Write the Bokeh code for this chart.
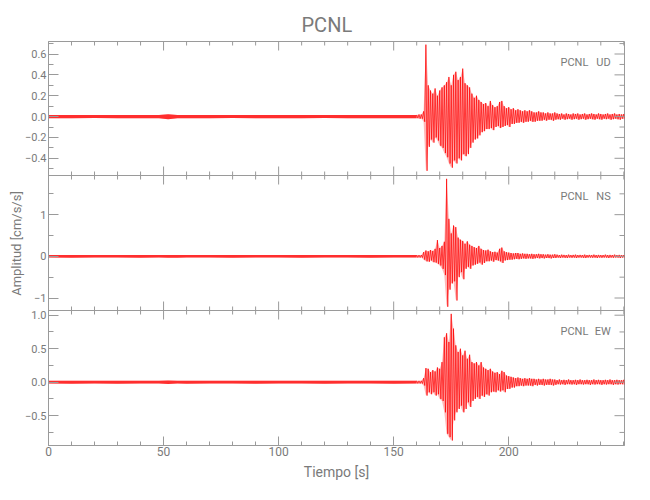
from bokeh.plotting import figure
from bokeh.models import Range1d, LinearAxis, FixedTicker, Label, Span
from bokeh.embed import file_html
from bokeh.resources import INLINE

# ---------------- data ----------------
station = "PCNL"
components = ["UD", "NS", "EW"]

# pre-event noise envelope (coarse sampling)
t_pre = [0, 10, 20, 30, 40, 48, 52, 56, 60, 70, 80, 90, 100, 110, 120, 130, 140, 150, 160]
ud_pre_hi = [0.015, 0.014, 0.016, 0.015, 0.015, 0.016, 0.022, 0.016, 0.015, 0.014, 0.015, 0.016, 0.015, 0.014, 0.015, 0.016, 0.015, 0.015, 0.016]
ud_pre_lo = [-0.015, -0.016, -0.014, -0.015, -0.016, -0.015, -0.025, -0.016, -0.015, -0.016, -0.014, -0.015, -0.016, -0.015, -0.014, -0.015, -0.016, -0.015, -0.015]
ns_pre_hi = [0.030, 0.030, 0.032, 0.030, 0.035, 0.030, 0.035, 0.030, 0.032, 0.030, 0.030, 0.032, 0.030, 0.030, 0.032, 0.030, 0.030, 0.032, 0.030]
ns_pre_lo = [-0.030, -0.032, -0.030, -0.030, -0.035, -0.030, -0.035, -0.032, -0.030, -0.030, -0.032, -0.030, -0.030, -0.032, -0.030, -0.030, -0.032, -0.030, -0.030]
ew_pre_hi = [0.020, 0.020, 0.022, 0.020, 0.020, 0.022, 0.026, 0.022, 0.020, 0.020, 0.022, 0.020, 0.020, 0.022, 0.020, 0.020, 0.022, 0.020, 0.020]
ew_pre_lo = [-0.020, -0.022, -0.020, -0.022, -0.020, -0.020, -0.027, -0.020, -0.022, -0.020, -0.020, -0.022, -0.020, -0.020, -0.022, -0.020, -0.020, -0.022, -0.020]

# event envelope, one value per second from 161 s to 250 s
t_evt = list(range(161, 251))
ud_hi = [0.02, 0.02, 0.05, 0.69, 0.30, 0.25, 0.22, 0.27, 0.20, 0.25,
         0.28, 0.30, 0.33, 0.38, 0.30, 0.40, 0.43, 0.35, 0.38, 0.46,
         0.32, 0.30, 0.28, 0.22, 0.18, 0.20, 0.16, 0.14, 0.12, 0.13,
         0.10, 0.15, 0.11, 0.09, 0.10, 0.14, 0.15, 0.10, 0.08, 0.09,
         0.07, 0.08, 0.06, 0.07, 0.06, 0.05, 0.06, 0.05, 0.06, 0.05,
         0.04, 0.04, 0.05, 0.04, 0.04, 0.03, 0.04, 0.03, 0.03, 0.04,
         0.03, 0.025, 0.03, 0.02, 0.03, 0.025, 0.02, 0.03, 0.025, 0.03,
         0.02, 0.025, 0.03, 0.02, 0.025, 0.03, 0.025, 0.02, 0.03, 0.025,
         0.02, 0.025, 0.03, 0.02, 0.025, 0.03, 0.02, 0.025, 0.02, 0.025]
ud_lo = [-0.02, -0.02, -0.05, -0.52, -0.29, -0.22, -0.25, -0.20, -0.23, -0.28,
         -0.30, -0.35, -0.39, -0.45, -0.49, -0.42, -0.45, -0.40, -0.42, -0.36,
         -0.38, -0.36, -0.30, -0.25, -0.22, -0.21, -0.18, -0.15, -0.14, -0.12,
         -0.12, -0.11, -0.13, -0.10, -0.09, -0.11, -0.10, -0.09, -0.08, -0.10,
         -0.07, -0.07, -0.06, -0.06, -0.05, -0.06, -0.05, -0.05, -0.04, -0.05,
         -0.05, -0.04, -0.04, -0.04, -0.03, -0.04, -0.03, -0.03, -0.04, -0.03,
         -0.025, -0.03, -0.02, -0.03, -0.025, -0.02, -0.03, -0.025, -0.02, -0.03,
         -0.025, -0.02, -0.03, -0.025, -0.02, -0.025, -0.03, -0.02, -0.025, -0.03,
         -0.02, -0.025, -0.02, -0.03, -0.025, -0.02, -0.025, -0.03, -0.02, -0.025]
ns_hi = [0.03, 0.03, 0.10, 0.14, 0.12, 0.15, 0.13, 0.18, 0.39, 0.20,
         0.25, 0.35, 1.86, 0.90, 0.55, 0.74, 0.70, 0.45, 0.40, 0.37,
         0.30, 0.36, 0.28, 0.25, 0.22, 0.20, 0.25, 0.18, 0.15, 0.14,
         0.16, 0.12, 0.10, 0.11, 0.09, 0.18, 0.21, 0.12, 0.10, 0.09,
         0.08, 0.07, 0.08, 0.08, 0.06, 0.07, 0.06, 0.06, 0.05, 0.06,
         0.05, 0.05, 0.06, 0.05, 0.05, 0.04, 0.05, 0.04, 0.04, 0.05,
         0.04, 0.03, 0.04, 0.035, 0.03, 0.04, 0.03, 0.035, 0.04, 0.03,
         0.035, 0.03, 0.04, 0.03, 0.035, 0.03, 0.04, 0.03, 0.035, 0.03,
         0.03, 0.04, 0.03, 0.035, 0.03, 0.04, 0.03, 0.035, 0.03, 0.03]
ns_lo = [-0.03, -0.03, -0.08, -0.12, -0.13, -0.10, -0.14, -0.15, -0.18, -0.22,
         -0.30, -0.45, -1.21, -0.80, -0.65, -0.60, -1.06, -0.50, -0.38, -0.55,
         -0.30, -0.25, -0.30, -0.22, -0.20, -0.18, -0.15, -0.20, -0.16, -0.12,
         -0.12, -0.10, -0.13, -0.09, -0.10, -0.12, -0.16, -0.10, -0.09, -0.08,
         -0.08, -0.07, -0.06, -0.07, -0.06, -0.05, -0.06, -0.05, -0.05, -0.06,
         -0.05, -0.04, -0.05, -0.04, -0.05, -0.04, -0.04, -0.05, -0.04, -0.04,
         -0.03, -0.04, -0.03, -0.035, -0.04, -0.03, -0.035, -0.03, -0.04, -0.03,
         -0.03, -0.035, -0.04, -0.03, -0.03, -0.035, -0.03, -0.04, -0.03, -0.035,
         -0.03, -0.03, -0.04, -0.03, -0.035, -0.03, -0.03, -0.04, -0.03, -0.035]
ew_hi = [0.02, 0.02, 0.06, 0.21, 0.20, 0.15, 0.18, 0.16, 0.22, 0.20,
         0.30, 0.67, 0.73, 0.60, 1.02, 0.80, 0.55, 0.45, 0.50, 0.40,
         0.47, 0.35, 0.41, 0.30, 0.28, 0.30, 0.25, 0.30, 0.22, 0.20,
         0.18, 0.20, 0.16, 0.14, 0.15, 0.12, 0.17, 0.15, 0.10, 0.09,
         0.08, 0.07, 0.06, 0.07, 0.06, 0.05, 0.06, 0.05, 0.06, 0.05,
         0.05, 0.04, 0.05, 0.04, 0.05, 0.04, 0.04, 0.05, 0.04, 0.04,
         0.03, 0.04, 0.03, 0.035, 0.03, 0.04, 0.03, 0.03, 0.035, 0.03,
         0.04, 0.03, 0.03, 0.035, 0.03, 0.03, 0.04, 0.03, 0.035, 0.03,
         0.03, 0.035, 0.03, 0.04, 0.03, 0.03, 0.035, 0.03, 0.03, 0.035]
ew_lo = [-0.02, -0.02, -0.05, -0.20, -0.15, -0.18, -0.15, -0.20, -0.18, -0.25,
         -0.28, -0.45, -0.77, -0.82, -0.87, -0.57, -0.45, -0.40, -0.35, -0.45,
         -0.40, -0.30, -0.37, -0.28, -0.25, -0.22, -0.25, -0.20, -0.22, -0.18,
         -0.20, -0.15, -0.14, -0.15, -0.12, -0.14, -0.12, -0.15, -0.10, -0.10,
         -0.08, -0.08, -0.06, -0.06, -0.05, -0.06, -0.05, -0.05, -0.05, -0.06,
         -0.04, -0.05, -0.04, -0.04, -0.05, -0.04, -0.04, -0.04, -0.05, -0.04,
         -0.03, -0.035, -0.03, -0.04, -0.03, -0.03, -0.035, -0.03, -0.04, -0.03,
         -0.03, -0.035, -0.03, -0.03, -0.04, -0.03, -0.035, -0.03, -0.03, -0.04,
         -0.03, -0.035, -0.03, -0.03, -0.04, -0.03, -0.035, -0.03, -0.03, -0.04,
         ][:90]

# axes
x_range = (0, 250.3)
x_ticks = [0, 50, 100, 150, 200]
x_labels = ["0", "50", "100", "150", "200"]
x_minor = [10, 20, 30, 40, 60, 70, 80, 90, 110, 120, 130, 140, 160, 170, 180, 190, 210, 220, 230, 240, 250]

y_ranges = [(-0.565, 0.72), (-1.30, 1.94), (-0.945, 1.07)]
y_ticks = [[-0.4, -0.2, 0.0, 0.2, 0.4, 0.6], [-1, 0, 1], [-0.5, 0.0, 0.5, 1.0]]
y_labels = [["\u22120.4", "\u22120.2", "0.0", "0.2", "0.4", "0.6"], ["\u22121", "0", "1"],
            ["\u22120.5", "0.0", "0.5", "1.0"]]
y_minor = [[-0.5, -0.3, -0.1, 0.1, 0.3, 0.5, 0.7], [-0.5, 0.5, 1.5], [-0.75, -0.25, 0.25, 0.75]]

title_text = "PCNL"
x_title = "Tiempo [s]"
y_title = "Amplitud [cm/s/s]"

# ---------------- layout / styling ----------------
FONT = "Roboto"
AXC = "#9a9a9a"
TXC = "#7a7a7a"
RED = "#ff0000"
FW = 576
FH = 404
band_bottom = [270, 135, 0]      # pixel offset of each panel inside the frame
band_height = [134, 135, 135]
names = ["ud", "ns", "ew"]


def zigzag(t, hi, lo):
    xs, ys = [], []
    n = len(t)
    for i in range(n):
        t_next = t[i + 1] if i + 1 < n else t[i] + (t[i] - t[i - 1])
        xs += [t[i], (t[i] + t_next) / 2.0]
        ys += [hi[i], lo[i]]
    return xs, ys


p = figure(frame_width=FW, frame_height=FH,
           x_range=Range1d(*x_range), y_range=Range1d(0, FH),
           output_backend="svg", toolbar_location=None,
           x_axis_location=None, y_axis_location=None,
           min_border_left=48, min_border_right=8,
           min_border_top=41, min_border_bottom=44,
           background_fill_color="white", border_fill_color="white",
           outline_line_color=AXC)
p.grid.visible = False

# title
p.title.text = title_text
p.title.align = "left"
p.title.offset = 253
p.title.standoff = 10
p.title.text_font = FONT
p.title.text_font_size = "20px"
p.title.text_font_style = "normal"
p.title.text_color = TXC

# one data range per panel, mapped onto its band of the frame
pre_sets = [(ud_pre_hi, ud_pre_lo), (ns_pre_hi, ns_pre_lo), (ew_pre_hi, ew_pre_lo)]
evt_sets = [(ud_hi, ud_lo), (ns_hi, ns_lo), (ew_hi, ew_lo)]

ytick_pos, ytick_lab, yminor_pos = [], [], []
for k in range(3):
    y0, y1 = y_ranges[k]
    ppu = band_height[k] / (y1 - y0)
    start = y0 - band_bottom[k] / ppu
    p.extra_y_ranges[names[k]] = Range1d(start, start + FH / ppu)
    for v, lab in zip(y_ticks[k], y_labels[k]):
        ytick_pos.append(round(band_bottom[k] + (v - y0) * ppu, 4))
        ytick_lab.append(lab)
    for v in y_minor[k]:
        yminor_pos.append(round(band_bottom[k] + (v - y0) * ppu, 4))

    phi, plo = pre_sets[k]
    ehi, elo = evt_sets[k]
    t_all = t_pre + t_evt
    # light envelope for the whole trace
    p.varea(x=t_all, y1=plo + elo, y2=phi + ehi, fill_color=RED, fill_alpha=0.28,
            y_range_name=names[k])
    # pre-event noise: dense thin band
    p.varea(x=t_pre, y1=plo, y2=phi, fill_color=RED, fill_alpha=0.75, y_range_name=names[k])
    # event: oscillating trace
    zx, zy = zigzag(t_pre[-1:] + t_evt, phi[-1:] + ehi, plo[-1:] + elo)
    p.line(zx, zy, line_color=RED, line_width=0.7, y_range_name=names[k])

    # station / component labels
    ylab = band_bottom[k] + band_height[k] - 21
    p.add_layout(Label(x=222.5, y=ylab, text=station, text_font=FONT, text_font_size="11px",
                       text_color=TXC, text_baseline="alphabetic", text_align="left"))
    p.add_layout(Label(x=244.3, y=ylab, text=components[k], text_font=FONT, text_font_size="11px",
                       text_color=TXC, text_baseline="alphabetic", text_align="right"))

# left axis with all panels' ticks
left = LinearAxis(ticker=FixedTicker(ticks=ytick_pos, minor_ticks=yminor_pos),
                  major_label_overrides=dict(zip(ytick_pos, ytick_lab)))
left.axis_line_color = AXC
left.major_tick_line_color = AXC
left.minor_tick_line_color = AXC
left.major_tick_in, left.major_tick_out = 10, 0
left.minor_tick_in, left.minor_tick_out = 5, 0
left.major_label_text_font = FONT
left.major_label_text_font_size = "11px"
left.major_label_text_color = TXC
left.major_label_standoff = 2
left.axis_label = y_title
left.axis_label_text_font = FONT
left.axis_label_text_font_size = "13px"
left.axis_label_text_font_style = "normal"
left.axis_label_text_color = TXC
left.axis_label_standoff = -2
p.add_layout(left, "left")

# bottom axis with labels
below = LinearAxis(ticker=FixedTicker(ticks=x_ticks, minor_ticks=x_minor),
                   major_label_overrides=dict(zip(x_ticks, x_labels)))
below.axis_line_color = AXC
below.major_tick_line_color = AXC
below.minor_tick_line_color = AXC
below.major_tick_in, below.major_tick_out = 9, 0
below.minor_tick_in, below.minor_tick_out = 4, 0
below.major_label_text_font = FONT
below.major_label_text_font_size = "12px"
below.major_label_text_color = TXC
below.major_label_standoff = 1
below.axis_label = x_title
below.axis_label_text_font = FONT
below.axis_label_text_font_size = "14px"
below.axis_label_text_font_style = "normal"
below.axis_label_text_color = TXC
below.axis_label_standoff = 5
p.add_layout(below, "below")

# panel separators
for b in band_bottom[:2]:
    p.add_layout(Span(location=b, dimension="width", line_color=AXC, line_width=1))

# mirrored ticks on the right edge
xr = x_range[1]
p.ray(x=[xr] * len(ytick_pos), y=ytick_pos, length=10, length_units="screen",
      angle=180, angle_units="deg", line_color=AXC, line_width=1)
p.ray(x=[xr] * len(yminor_pos), y=yminor_pos, length=5, length_units="screen",
      angle=180, angle_units="deg", line_color=AXC, line_width=1)

# x ticks on every panel edge (top of each panel pointing down, bottom pointing up)
for k in range(3):
    top_edge = band_bottom[k] + band_height[k]
    bot_edge = band_bottom[k]
    p.ray(x=x_ticks, y=[top_edge] * len(x_ticks), length=9, length_units="screen",
          angle=-90, angle_units="deg", line_color=AXC, line_width=1)
    p.ray(x=x_minor, y=[top_edge] * len(x_minor), length=4, length_units="screen",
          angle=-90, angle_units="deg", line_color=AXC, line_width=1)
    if bot_edge > 0:
        p.ray(x=x_ticks, y=[bot_edge] * len(x_ticks), length=9, length_units="screen",
              angle=90, angle_units="deg", line_color=AXC, line_width=1)
        p.ray(x=x_minor, y=[bot_edge] * len(x_minor), length=4, length_units="screen",
              angle=90, angle_units="deg", line_color=AXC, line_width=1)

open("out.html", "w").write(file_html(p, INLINE))
